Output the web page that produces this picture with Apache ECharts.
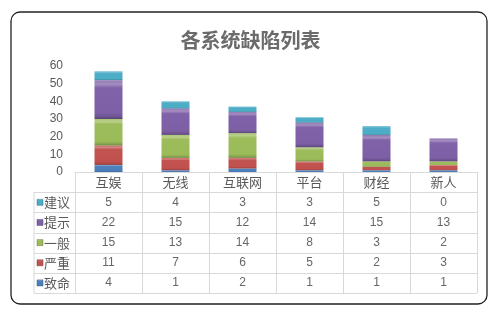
<!DOCTYPE html>
<html><head><meta charset="utf-8">
<script src="https://cdn.jsdelivr.net/npm/echarts@6/dist/echarts.min.js"></script>
<style>html,body{margin:0;padding:0;background:#fff}#c{width:501px;height:314px}</style>
</head><body><div id="c"></div>
<script>
// ---- data ----
const categories = ['互娱', '无线', '互联网', '平台', '财经', '新人'];
const seriesNames = ['致命', '严重', '一般', '提示', '建议']; // stack order, bottom -> top
const fatal   = [4, 1, 2, 1, 1, 1];
const severe  = [11, 7, 6, 5, 2, 3];
const normal  = [15, 13, 14, 8, 3, 2];
const hint    = [22, 15, 12, 14, 15, 13];
const suggest = [5, 4, 3, 3, 5, 0];
const yTicks = [0, 10, 20, 30, 40, 50, 60];

// ---- styles / layout ----
const values = [fatal, severe, normal, hint, suggest];
const colors = ['#4a7ebb', '#c0504d', '#9bbb59', '#7d5fa6', '#4bacc6'];
const W = 501, H = 314;
const GL = 75, GR = 477, GT = 66, GB = 172;
const ROW_H = (293 - GB) / 6;
const TABLE_L = 34;
const LINE = '#d9d9d9';
const TXT = '#595959';

function shade(hex, f) {
  const n = parseInt(hex.slice(1), 16);
  let r = (n >> 16) & 255, g = (n >> 8) & 255, b = n & 255;
  const m = c => f >= 0 ? Math.round(c + (255 - c) * f) : Math.round(c * (1 + f));
  return 'rgb(' + m(r) + ',' + m(g) + ',' + m(b) + ')';
}
function bevel(hex) {
  return {
    type: 'linear', x: 0, y: 0, x2: 0, y2: 1,
    colorStops: [
      { offset: 0, color: shade(hex, 0.15) },
      { offset: 0.1, color: shade(hex, 0.3) },
      { offset: 0.2, color: shade(hex, 0.02) },
      { offset: 0.85, color: hex },
      { offset: 0.94, color: shade(hex, -0.12) },
      { offset: 1, color: shade(hex, -0.3) }
    ]
  };
}

const chart = echarts.init(document.getElementById('c'), null, { renderer: 'canvas' });

// table rows top->bottom: reverse of stack order
const rowOrder = [4, 3, 2, 1, 0];

const xAxes = [{
  type: 'category', data: categories, gridIndex: 0, position: 'bottom',
  axisLine: { show: true, lineStyle: { color: LINE, width: 1 } },
  axisTick: { show: true, length: 6 * ROW_H, lineStyle: { color: LINE } },
  axisLabel: { interval: 0, margin: ROW_H / 2, verticalAlign: 'middle', color: TXT, fontSize: 13, fontFamily: 'Noto Sans CJK SC' }
}];
rowOrder.forEach((si, k) => {
  xAxes.push({
    type: 'category', data: categories, gridIndex: 0, position: 'bottom',
    offset: ROW_H * (k + 1),
    axisLine: { show: false }, axisTick: { show: false },
    axisLabel: {
      interval: 0, margin: ROW_H / 2, verticalAlign: 'middle', color: '#666', fontSize: 12,
      fontFamily: 'Liberation Sans',
      formatter: (v, idx) => String(values[si][idx])
    }
  });
});

const graphics = [
  { type: 'rect', shape: { x: 11, y: 12, width: 476, height: 292, r: 9 },
    style: { fill: 'none', stroke: '#222', lineWidth: 1.3 }, z: 10 },
  { type: 'line', shape: { x1: TABLE_L, y1: GB + ROW_H, x2: TABLE_L, y2: GB + 6 * ROW_H },
    style: { stroke: LINE, lineWidth: 1 } }
];
for (let k = 1; k <= 6; k++) {
  const y = Math.round(GB + k * ROW_H) + 0.5;
  graphics.push({ type: 'line', shape: { x1: TABLE_L, y1: y, x2: GR, y2: y }, style: { stroke: LINE, lineWidth: 1 } });
}
rowOrder.forEach((si, k) => {
  const cy = GB + ROW_H * (k + 1) + ROW_H / 2;
  graphics.push({ type: 'rect', shape: { x: 37, y: cy - 3, width: 6, height: 6 },
    style: { fill: bevel(colors[si]), stroke: shade(colors[si], -0.3), lineWidth: 0.5 } });
  graphics.push({ type: 'text', x: 44, y: cy,
    style: { text: seriesNames[si], fill: TXT, font: '13px "Noto Sans CJK SC"', verticalAlign: 'middle', align: 'left' } });
});

chart.setOption({
  animation: false,
  backgroundColor: '#fff',
  title: {
    text: '各系统缺陷列表', left: 'center', top: 25,
    textStyle: { color: '#6b6b6b', fontSize: 20, fontWeight: 'bold', fontFamily: 'Noto Sans CJK SC' }
  },
  grid: { left: GL, right: W - GR, top: GT, bottom: H - GB, containLabel: false },
  xAxis: xAxes,
  yAxis: {
    type: 'value', min: 0, max: 60, interval: 10,
    axisLine: { show: false }, axisTick: { show: false }, splitLine: { show: false },
    axisLabel: { color: TXT, fontSize: 12, margin: 12, fontFamily: 'Liberation Sans',
      formatter: v => yTicks.includes(v) ? String(v) : '' }
  },
  series: seriesNames.map((n, i) => ({
    name: n, type: 'bar', stack: 'total', barWidth: 28, xAxisIndex: 0,
    data: values[i],
    itemStyle: { color: bevel(colors[i]) }
  })),
  graphic: graphics
});
</script></body></html>
